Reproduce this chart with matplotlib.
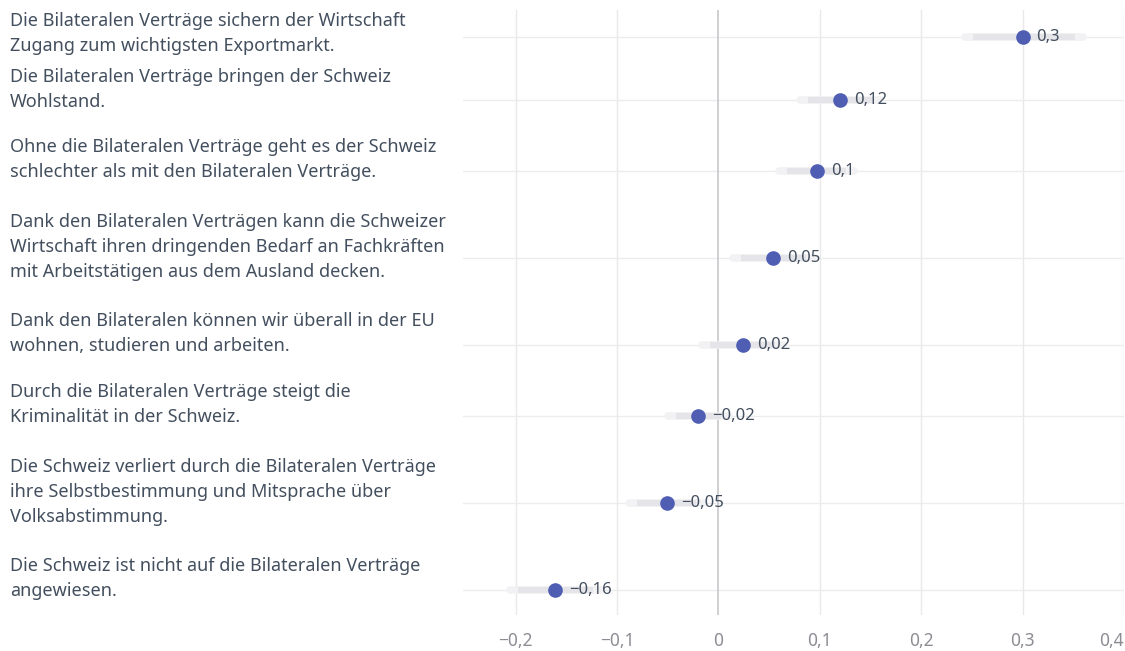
import matplotlib
matplotlib.use("Agg")
import matplotlib.pyplot as plt
import matplotlib.transforms as mtransforms

plt.rcParams['font.family'] = ['Noto Sans', 'DejaVu Sans']

# Aussagen (von oben nach unten)
aussagen = [
    "Die Bilateralen Verträge sichern der Wirtschaft\nZugang zum wichtigsten Exportmarkt.",
    "Die Bilateralen Verträge bringen der Schweiz\nWohlstand.",
    "Ohne die Bilateralen Verträge geht es der Schweiz\nschlechter als mit den Bilateralen Verträge.",
    "Dank den Bilateralen Verträgen kann die Schweizer\nWirtschaft ihren dringenden Bedarf an Fachkräften\nmit Arbeitstätigen aus dem Ausland decken.",
    "Dank den Bilateralen können wir überall in der EU\nwohnen, studieren und arbeiten.",
    "Durch die Bilateralen Verträge steigt die\nKriminalität in der Schweiz.",
    "Die Schweiz verliert durch die Bilateralen Verträge\nihre Selbstbestimmung und Mitsprache über\nVolksabstimmung.",
    "Die Schweiz ist nicht auf die Bilateralen Verträge\nangewiesen.",
]
werte = [0.30, 0.12, 0.097, 0.054, 0.024, -0.02, -0.051, -0.161]
unten = [0.243, 0.080, 0.060, 0.014, -0.016, -0.050, -0.088, -0.206]
oben = [0.360, 0.160, 0.134, 0.094, 0.064, 0.010, -0.014, -0.116]

xticks = [-0.2, -0.1, 0, 0.1, 0.2, 0.3, 0.4]

punkt_farbe = "#4f5db3"
text_farbe = "#434f5e"

# Zeilenpositionen je nach Anzahl Textzeilen
n_zeilen = [a.count("\n") + 1 for a in aussagen]
pos = [0]
for i in range(1, len(aussagen)):
    abstand = 86 if max(n_zeilen[i - 1], n_zeilen[i]) > 2 else 70
    if i == 1:
        abstand = 62
    pos.append(pos[-1] + abstand)

fig = plt.figure(figsize=(11.25, 6.51), dpi=100)
ax = fig.add_axes([463 / 1125, 36 / 651, 661 / 1125, 605 / 651])

ax.set_xlim(-0.252, 0.4)
ax.set_ylim(pos[-1] + 25, pos[0] - 27)

for x in xticks:
    if x == 0:
        ax.axvline(x, color="#c4c4c8", lw=1.1, zorder=1)
    else:
        ax.axvline(x, color="#e9e9ec", lw=1, zorder=0)
for y in pos:
    ax.axhline(y, color="#ececef", lw=1, zorder=0)

for y, w, lo, hi in zip(pos, werte, unten, oben):
    ax.plot([lo, hi], [y, y], color="#f2f2f4", lw=5.5, solid_capstyle="round", zorder=2)
    ax.plot([lo + 0.008, hi - 0.008], [y, y], color="#e5e5e9", lw=4.5, solid_capstyle="butt", zorder=2)
    ax.plot(w, y, "o", color=punkt_farbe, ms=9.5, mec=punkt_farbe, zorder=4)
    txt = f"{round(w, 2):g}".replace(".", ",").replace("-", "−")
    ax.annotate(txt, (w, y), xytext=(10, 0), textcoords="offset points",
                va="center", ha="left", fontsize=12, color=text_farbe, zorder=5)

# Beschriftungen links
for i, (y, a) in enumerate(zip(pos, aussagen)):
    versatz = 4 if i == 0 else 11
    trans = mtransforms.blended_transform_factory(fig.transFigure, ax.transData)
    trans = trans + mtransforms.ScaledTranslation(0, versatz / 100, fig.dpi_scale_trans)
    ax.text(10 / 1125, y, a, transform=trans, ha="left", va="center",
            fontsize=13, color=text_farbe, linespacing=1.5, clip_on=False)

ax.set_xticks(xticks)
labels = [f"{t:g}".replace(".", ",").replace("-", "−") for t in xticks]
ax.set_xticklabels(labels, fontsize=12.5, color="#8c8c94")
ax.get_xticklabels()[-1].set_ha("right")
ax.tick_params(axis="x", length=0, pad=12)
ax.set_yticks([])
for s in ax.spines.values():
    s.set_visible(False)

fig.savefig("out.png", dpi=100, facecolor="white")
